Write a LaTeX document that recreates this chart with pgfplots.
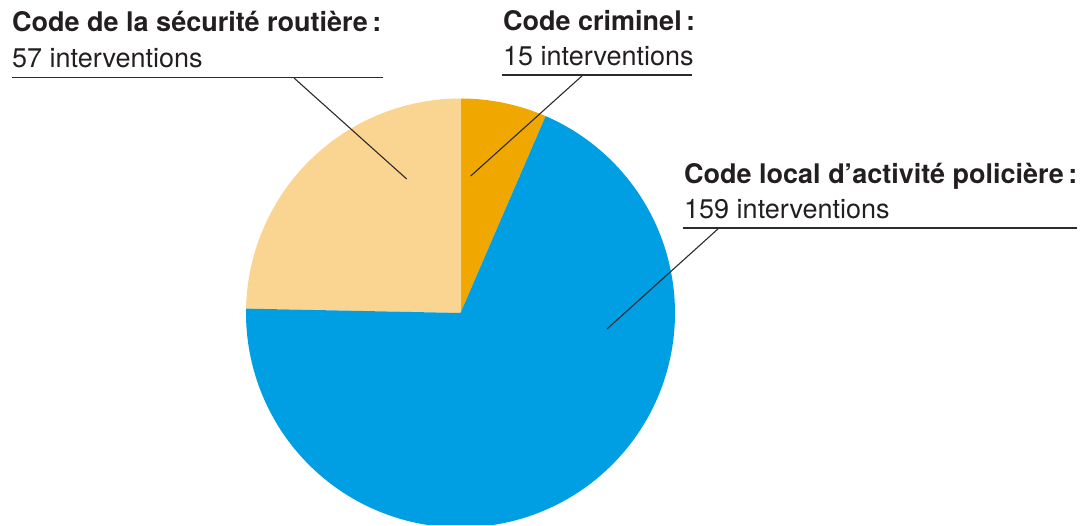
\documentclass[border=0pt]{standalone}
\usepackage{pgfplots}
\usepackage{pgfplotstable}
\usepackage{fontspec}
\setmainfont{TeX Gyre Heros}
\pgfplotsset{compat=1.18}
\definecolor{cCrim}{HTML}{F0A800}
\definecolor{cRout}{HTML}{FAD491}
\definecolor{cLoc}{HTML}{009FE3}
\definecolor{cTxt}{HTML}{231F20}
\definecolor{cLine}{HTML}{2B2B2B}

\pgfplotstableread{
code value
criminel 15
routiere 57
local 159
}\piedata
\pgfplotstablegetelem{0}{value}\of\piedata \let\vCrim\pgfplotsretval
\pgfplotstablegetelem{1}{value}\of\piedata \let\vRout\pgfplotsretval
\pgfplotstablegetelem{2}{value}\of\piedata \let\vLoc\pgfplotsretval
\pgfmathsetmacro\total{\vCrim+\vRout+\vLoc}
\pgfmathsetmacro\aCrim{90-360*(\vCrim/\total)}
\pgfmathsetmacro\aRout{90+360*(\vRout/\total)}
\pgfmathsetmacro\aLoc{\aCrim+360}

\begin{document}%
\begin{tikzpicture}
\begin{axis}[
  name=ax,
  width=1090pt, height=525pt, scale only axis,
  xmin=0, xmax=1090, ymin=0, ymax=525,
  hide axis, clip=true,
]
% wedges
\addplot[fill=cCrim, draw=none, domain=\aCrim:90, samples=80, variable=\t]
  ({460.5+214.5*cos(\t)},{212+214.5*sin(\t)}) -- (axis cs:460.5,212) -- cycle;
\addplot[fill=cRout, draw=none, domain=90:\aRout, samples=120, variable=\t]
  ({460.5+214.5*cos(\t)},{212+214.5*sin(\t)}) -- (axis cs:460.5,212) -- cycle;
\addplot[fill=cLoc, draw=none, domain=\aRout:\aLoc, samples=240, variable=\t]
  ({460.5+214.5*cos(\t)},{212+214.5*sin(\t)}) -- (axis cs:460.5,212) -- cycle;
% underlines
\addplot[cLine, line width=1.4pt, mark=none] coordinates {(12,447.3) (383,447.3)};
\addplot[cLine, line width=1.4pt, mark=none] coordinates {(502,450) (692,450)};
\addplot[cLine, line width=1.4pt, mark=none] coordinates {(683,297) (1077,297)};
% leader lines
\addplot[cLine, line width=1.1pt, mark=none] coordinates {(294,447) (406.7,346)};
\addplot[cLine, line width=1.1pt, mark=none] coordinates {(583,450) (470.7,349)};
\addplot[cLine, line width=1.1pt, mark=none] coordinates {(719,297) (607,196)};
% labels
\begin{scope}[every node/.style={anchor=base west, inner sep=0pt, text=cTxt, font=\fontsize{27}{30}\selectfont}]
\node at (axis cs:12,493) {\bfseries Code de la sécurité routière\,:};
\node at (axis cs:12,457) {57 interventions};
\node at (axis cs:503,494.3) {\bfseries Code criminel\,:};
\node at (axis cs:503,459.3) {15 interventions};
\node at (axis cs:684,341) {\bfseries Code local d’activité policière\,:};
\node at (axis cs:684,306) {159 interventions};
\end{scope}
\end{axis}
\pgfresetboundingbox
\path[use as bounding box] (ax.south west) rectangle (ax.north east);
\end{tikzpicture}%
\end{document}
